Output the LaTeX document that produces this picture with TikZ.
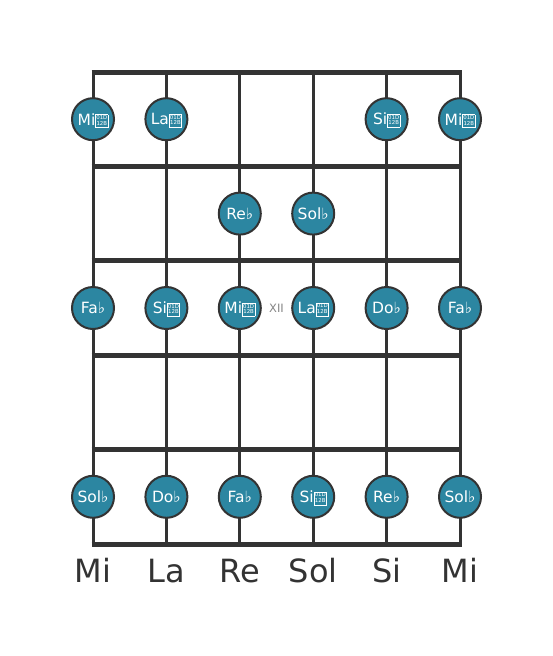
\documentclass[tikz,border=0pt]{standalone}
\usepackage{fontspec}
\setmainfont{DejaVu Sans}
\usetikzlibrary{positioning,calc}
\definecolor{dotfill}{HTML}{2C86A1}
\definecolor{ink}{HTML}{333333}
\tikzset{fretline/.style = {draw=ink,line width=5pt},
	stringline/.style = {draw=ink,line width=3pt},
	notedot/.style = {circle,draw=ink,line width=2pt,fill=dotfill,minimum size=42pt,inner sep=0pt,
		text=white,font=\fontsize{15.5}{16}\selectfont},
	stringname/.style = {anchor=base,text=ink,font=\fontsize{32}{34}\selectfont},
	fretmark/.style = {text=ink!60,font=\fontsize{11.5}{12}\selectfont}}
% missing-glyph box as printed for the double flat
\NewDocumentCommand{\dflat}{}{%
	{\setlength{\fboxsep}{0.5pt}\setlength{\fboxrule}{0.5pt}%
	\raisebox{0pt}[0pt][0pt]{\fbox{\fontsize{5.4}{5.6}\selectfont
		\begin{tabular}[b]{@{}c@{}}01D\\12B\end{tabular}}}}}
\newcommand{\fl}{♭}

\begin{document}
\begin{tikzpicture}[x=1pt,y=-1pt]
\useasboundingbox (0,0) rectangle (553,656);
% strings
\foreach \s in {0,...,5}{
	\coordinate (top-\s) at (93+73.4*\s,70);
	\coordinate (bot-\s) at (93+73.4*\s,546);
	\draw[stringline] (top-\s) -- (bot-\s);
}
% frets
\foreach \f in {0,...,5}{
	\coordinate (fl-\f) at (91.5,72+94.4*\f);
	\coordinate (fr-\f) at (461.5,72+94.4*\f);
	\draw[fretline] (fl-\f) -- (fr-\f);
}
% notes
\foreach \s/\f/\name in {0/1/Mi\dflat, 1/1/La\dflat, 4/1/Si\dflat, 5/1/Mi\dflat,
	2/2/Re\fl, 3/2/Sol\fl,
	0/3/Fa\fl, 1/3/Si\dflat, 2/3/Mi\dflat, 3/3/La\dflat, 4/3/Do\fl, 5/3/Fa\fl,
	0/5/Sol\fl, 1/5/Do\fl, 2/5/Fa\fl, 3/5/Si\dflat, 4/5/Re\fl, 5/5/Sol\fl}{
	\node[notedot] (n-\s-\f) at (93+73.4*\s,72+94.4*\f-47.2) {\name};
}
\node[fretmark] (xii) at ($(n-2-3)!0.5!(n-3-3)$) {XII};
% open string names
\foreach \s/\name in {0/Mi, 1/La, 2/Re, 3/Sol, 4/Si, 5/Mi}{
	\node[stringname] (name-\s) at (93+73.4*\s,582) {\name};
}
\end{tikzpicture}
\end{document}
